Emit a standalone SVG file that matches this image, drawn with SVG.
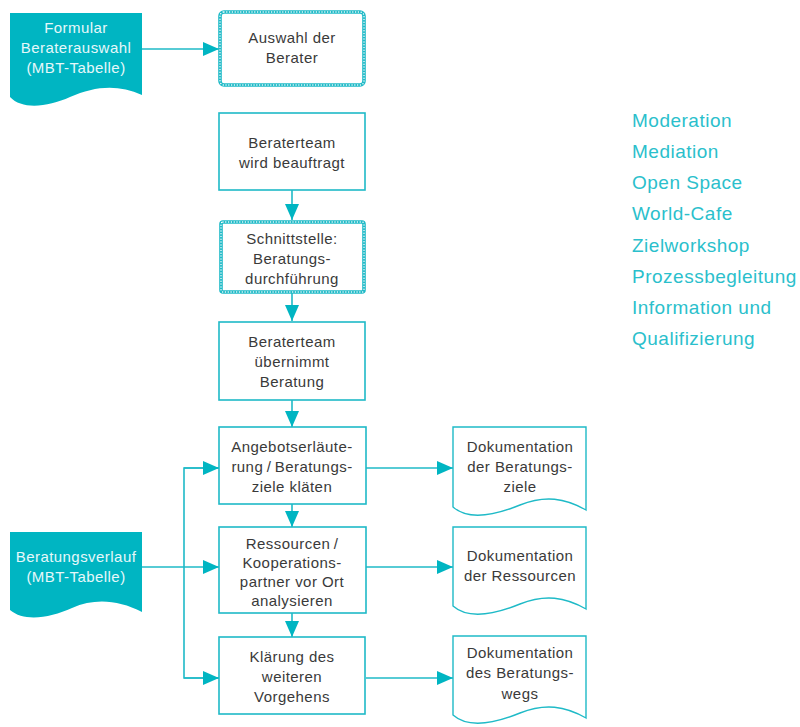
<svg xmlns="http://www.w3.org/2000/svg" width="800" height="727" viewBox="0 0 800 727">
  <defs>
    <style>
      .box { fill: #ffffff; stroke: #1fbac7; stroke-width: 1.6; }
      .chain-out { fill: #ffffff; stroke: #1fbac7; stroke-width: 3.6; }
      .chain-in { fill: none; stroke: #ffffff; stroke-width: 1.5; stroke-dasharray: 0 2.8; stroke-linecap: round; }
      .doc { fill: #ffffff; stroke: #1fbac7; stroke-width: 1.4; }
      .src { fill: #00b5c2; stroke: none; }
      .lbl { font-family: "Liberation Sans", Arial, sans-serif; font-size: 15px; letter-spacing: 0.45px; fill: #3a3a3a; text-anchor: middle; }
      .lbl-w { font-family: "Liberation Sans", Arial, sans-serif; font-size: 15px; letter-spacing: 0.45px; fill: #e6f8fa; text-anchor: middle; }
      .list { font-family: "Liberation Sans", Arial, sans-serif; font-size: 19px; letter-spacing: 0.5px; fill: #2bbfcc; }
      .conn { fill: none; stroke: #1fbac7; stroke-width: 1.6; }
    </style>
    <marker id="arrow" viewBox="0 0 16 14" refX="16" refY="7" markerWidth="16" markerHeight="14" markerUnits="userSpaceOnUse" orient="auto">
      <path d="M0,0 L16,7 L0,14 Z" fill="#00b5c2"/>
    </marker>
  </defs>

  <!-- connectors -->
  <g id="connectors">
    <path class="conn" d="M142,49 H219" marker-end="url(#arrow)"/>
    <path class="conn" d="M292,190 V220" marker-end="url(#arrow)"/>
    <path class="conn" d="M292,293 V321" marker-end="url(#arrow)"/>
    <path class="conn" d="M292,400 V427" marker-end="url(#arrow)"/>
    <path class="conn" d="M292,504 V527" marker-end="url(#arrow)"/>
    <path class="conn" d="M292,613 V637" marker-end="url(#arrow)"/>
    <path class="conn" d="M142,567 H219" marker-end="url(#arrow)"/>
    <path class="conn" d="M219,468 H184 V678 H219" />
    <path class="conn" d="M184,468 H219" marker-end="url(#arrow)"/>
    <path class="conn" d="M184,678 H219" marker-end="url(#arrow)"/>
    <path class="conn" d="M366,468 H453" marker-end="url(#arrow)"/>
    <path class="conn" d="M366,567 H453" marker-end="url(#arrow)"/>
    <path class="conn" d="M366,678 H453" marker-end="url(#arrow)"/>
  </g>

  <!-- source documents -->
  <g id="formular">
    <path class="src" d="M10,13 H142 V95 C118,84 95,86 70,97 C48,107 22,110 10,97 Z"/>
    <text class="lbl-w" x="76" y="33">Formular</text>
    <text class="lbl-w" x="76" y="53">Beraterauswahl</text>
    <text class="lbl-w" x="76" y="73">(MBT-Tabelle)</text>
  </g>

  <g id="beratungsverlauf">
    <path class="src" d="M10,532 H142 V612 C118,600 95,598 72,608 C50,618 24,622 10,610 Z"/>
    <text class="lbl-w" x="76" y="562">Beratungsverlauf</text>
    <text class="lbl-w" x="76" y="582">(MBT-Tabelle)</text>
  </g>

  <!-- process steps -->
  <g id="auswahl">
    <rect class="chain-out" x="220" y="12" width="144" height="73" rx="4"/>
    <rect class="chain-in" x="220" y="12" width="144" height="73" rx="4"/>
    <text class="lbl" x="292" y="43">Auswahl der</text>
    <text class="lbl" x="292" y="63">Berater</text>
  </g>

  <g id="beauftragt">
    <rect class="box" x="219" y="113" width="146" height="77"/>
    <text class="lbl" x="292" y="148">Beraterteam</text>
    <text class="lbl" x="292" y="168">wird beauftragt</text>
  </g>

  <g id="schnittstelle">
    <rect class="chain-out" x="221" y="222" width="143" height="70" rx="2"/>
    <rect class="chain-in" x="221" y="222" width="143" height="70" rx="2"/>
    <text class="lbl" x="292" y="244">Schnittstelle:</text>
    <text class="lbl" x="292" y="264">Beratungs-</text>
    <text class="lbl" x="292" y="284">durchführung</text>
  </g>

  <g id="uebernimmt">
    <rect class="box" x="219" y="322" width="146" height="78"/>
    <text class="lbl" x="292" y="347">Beraterteam</text>
    <text class="lbl" x="292" y="367">übernimmt</text>
    <text class="lbl" x="292" y="387">Beratung</text>
  </g>

  <g id="angebot">
    <rect class="box" x="219" y="427" width="147" height="77"/>
    <text class="lbl" x="292" y="452">Angebotserläute-</text>
    <text class="lbl" x="292" y="472">rung&#8201;/&#8201;Beratungs-</text>
    <text class="lbl" x="292" y="492">ziele kläten</text>
  </g>

  <g id="ressourcen">
    <rect class="box" x="219" y="527" width="147" height="86"/>
    <text class="lbl" x="292" y="549">Ressourcen&#8201;/</text>
    <text class="lbl" x="292" y="568">Kooperations-</text>
    <text class="lbl" x="292" y="587">partner vor Ort</text>
    <text class="lbl" x="292" y="606">analysieren</text>
  </g>

  <g id="klaerung">
    <rect class="box" x="219" y="637" width="146" height="77"/>
    <text class="lbl" x="292" y="662">Klärung des</text>
    <text class="lbl" x="292" y="682">weiteren</text>
    <text class="lbl" x="292" y="702">Vorgehens</text>
  </g>

  <!-- output documents -->
  <g id="doku-ziele">
    <path class="doc" d="M453,427 H586 V510 C565,498 545,495 520,505 C498,514 470,522 453,507 Z"/>
    <text class="lbl" x="520" y="452">Dokumentation</text>
    <text class="lbl" x="520" y="472">der Beratungs-</text>
    <text class="lbl" x="520" y="492">ziele</text>
  </g>

  <g id="doku-ressourcen">
    <path class="doc" d="M453,527 H586 V609 C565,597 545,594 520,604 C498,613 470,621 453,606 Z"/>
    <text class="lbl" x="520" y="561">Dokumentation</text>
    <text class="lbl" x="520" y="581">der Ressourcen</text>
  </g>

  <g id="doku-weg">
    <path class="doc" d="M453,636 H586 V718 C565,706 545,703 520,713 C498,722 470,730 453,715 Z"/>
    <text class="lbl" x="520" y="658">Dokumentation</text>
    <text class="lbl" x="520" y="678">des Beratungs-</text>
    <text class="lbl" x="520" y="699">wegs</text>
  </g>

  <!-- method list -->
  <g id="methoden">
    <text class="list" x="632" y="127">Moderation</text>
    <text class="list" x="632" y="158">Mediation</text>
    <text class="list" x="632" y="189">Open Space</text>
    <text class="list" x="632" y="220">World-Cafe</text>
    <text class="list" x="632" y="252">Zielworkshop</text>
    <text class="list" x="632" y="283">Prozessbegleitung</text>
    <text class="list" x="632" y="314">Information und</text>
    <text class="list" x="632" y="345">Qualifizierung</text>
  </g>
</svg>
